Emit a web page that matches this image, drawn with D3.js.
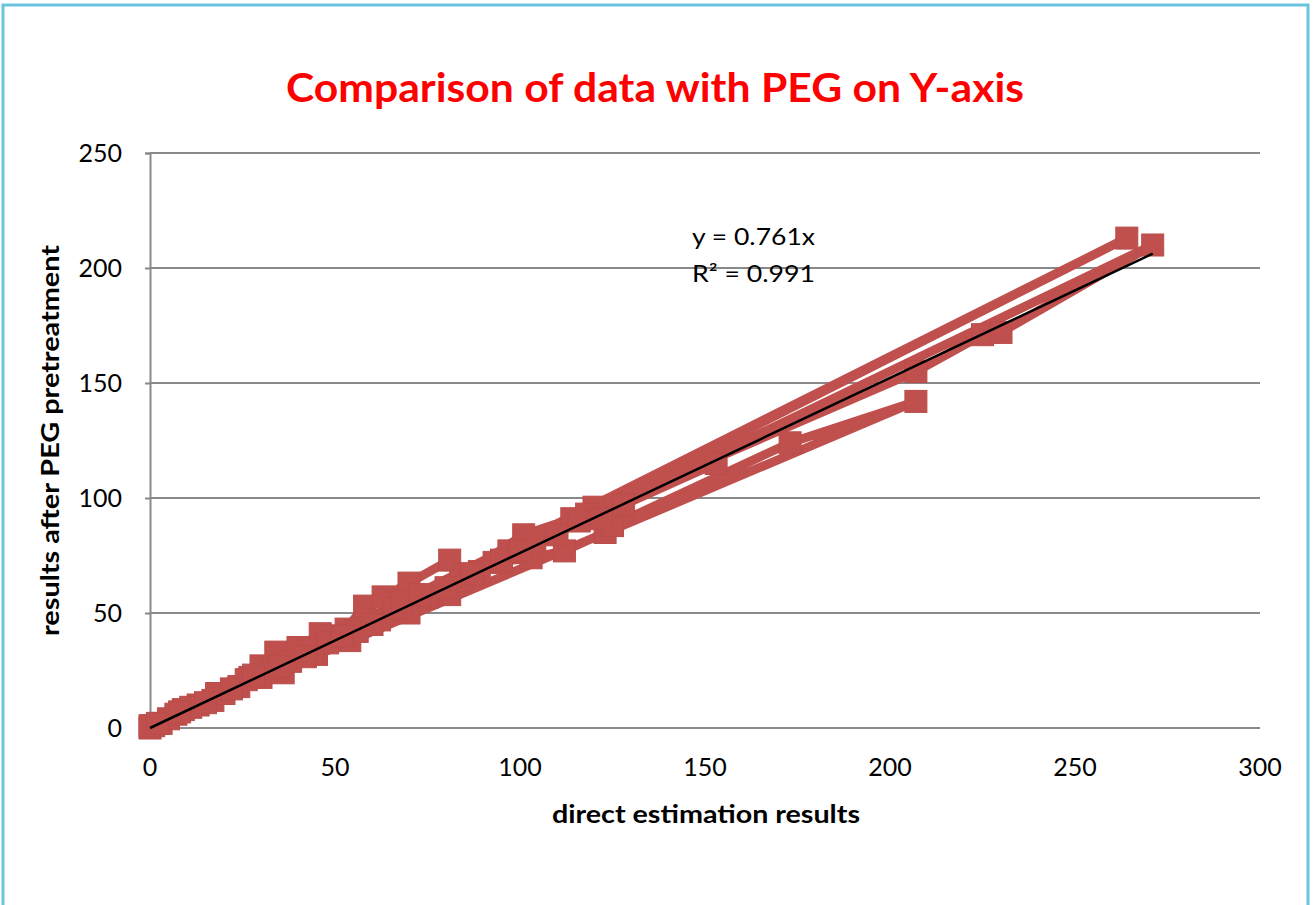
<!DOCTYPE html>
<html lang="en">
<head>
<meta charset="UTF-8">
<title>Comparison of data with PEG on Y-axis</title>
<script src="https://d3js.org/d3.v7.min.js"></script>
<style>
    body { margin: 0; background: #fff; }
    svg { display: block; font-family: Lato, "Open Sans", sans-serif; }
    .grid line { stroke: #898989; stroke-width: 2px; }
    .tick-label { font-size: 25px; fill: #000; }
    .axis-title { font-size: 24px; font-weight: bold; fill: #000; }
</style>
</head>
<body>
<svg width="1314" height="905"></svg>
<script>
// direct estimation results (x) and results after PEG pretreatment (y), in sample order
const directX = [
    0, 3, 9, 17, 24, 30, 34, 40, 46, 53, 58, 63, 70, 81, 85, 101, 114, 120, 264,
    1, 5, 13, 18, 27, 30, 36, 45, 54, 62, 70, 81, 93, 103, 112, 123, 125, 173, 207,
    0, 7, 11, 20, 26, 33, 38, 44, 49, 56, 66, 75, 84, 89, 97, 104, 118, 207, 225, 230, 271,
    2, 8, 15, 22, 28, 35, 42, 48, 52, 60, 68, 73, 80, 87, 95, 100, 110, 116, 122, 128, 153
];
const pegY = [
    0, 2, 8, 12, 18, 27, 33, 35, 41, 43, 53, 57, 63, 73, 67, 84, 91, 96, 213,
    1, 4, 10, 15, 22, 22, 24, 32, 38, 47, 50, 58, 72, 74, 77, 85, 88, 124, 142,
    1, 6, 9, 15, 21, 26, 29, 34, 40, 42, 52, 57, 64, 68, 77, 80, 93, 155, 171, 172, 210,
    2, 7, 11, 17, 23, 27, 31, 37, 40, 45, 55, 58, 61, 67, 73, 77, 84, 90, 91, 97, 115
];
const xTicks = [0, 50, 100, 150, 200, 250, 300];
const yTicks = [0, 50, 100, 150, 200, 250];
const slope = 0.761;
const eqLines = ["y = 0.761x", "R\u00B2 = 0.991"];

const points = directX.map((x, i) => ({ x: x, y: pegY[i] }));

const svg = d3.select("svg");
const plot = { left: 150, right: 1260, top: 153, bottom: 728 };
const red = "#C0504D";

// chart frame
svg.append("rect")
    .attr("x", 3).attr("y", 5)
    .attr("width", 1305).attr("height", 910)
    .attr("fill", "#fff")
    .attr("stroke", "#6CC3DD")
    .attr("stroke-width", 3);

const x = d3.scaleLinear().domain([0, 300]).range([plot.left, plot.right]);
const y = d3.scaleLinear().domain([0, 250]).range([plot.bottom, plot.top]);

// horizontal gridlines
svg.append("g").attr("class", "grid")
    .selectAll("line").data(yTicks).join("line")
    .attr("x1", plot.left).attr("x2", plot.right)
    .attr("y1", d => y(d)).attr("y2", d => y(d));

// y axis line with small outside ticks
const yAxis = svg.append("g")
    .attr("transform", `translate(${plot.left},0)`)
    .call(d3.axisLeft(y).tickValues(yTicks).tickSize(5).tickFormat(""));
yAxis.select(".domain").attr("stroke", "#898989").attr("stroke-width", 2);
yAxis.selectAll(".tick line").attr("stroke", "#898989").attr("stroke-width", 2);

svg.append("g").selectAll("text").data(yTicks).join("text")
    .attr("class", "tick-label")
    .attr("x", 122)
    .attr("y", d => y(d))
    .attr("dy", "0.35em")
    .attr("text-anchor", "end")
    .text(d => d);

svg.append("g").selectAll("text").data(xTicks).join("text")
    .attr("class", "tick-label")
    .attr("x", d => x(d))
    .attr("y", 776)
    .attr("text-anchor", "middle")
    .text(d => d);

// series: lines in sample order, square markers
const line = d3.line().x(d => x(d.x)).y(d => y(d.y));
svg.append("path")
    .datum(points)
    .attr("d", line)
    .attr("fill", "none")
    .attr("stroke", red)
    .attr("stroke-width", 9)
    .attr("stroke-linejoin", "round")
    .attr("stroke-linecap", "round");

const m = 22;
svg.append("g").selectAll("rect").data(points).join("rect")
    .attr("x", d => x(d.x) - m / 2)
    .attr("y", d => y(d.y) - m / 2)
    .attr("width", m).attr("height", m)
    .attr("fill", red)
    .attr("stroke", "#BA4D4A")
    .attr("stroke-width", 1);

// linear trendline through origin
const xMax = d3.max(directX);
svg.append("line")
    .attr("x1", x(0)).attr("y1", y(0))
    .attr("x2", x(xMax)).attr("y2", y(slope * xMax))
    .attr("stroke", "#000")
    .attr("stroke-width", 2.5);

svg.append("g").selectAll("text").data(eqLines).join("text")
    .attr("x", 692)
    .attr("y", (d, i) => 245 + i * 37)
    .attr("font-size", 23)
    .attr("textLength", 123)
    .attr("lengthAdjust", "spacingAndGlyphs")
    .text(d => d);

// titles
svg.append("text")
    .attr("x", 655).attr("y", 102)
    .attr("text-anchor", "middle")
    .attr("font-size", 41)
    .attr("font-weight", "bold")
    .attr("fill", "#FF0000")
    .attr("textLength", 738)
    .attr("lengthAdjust", "spacingAndGlyphs")
    .text("Comparison of data with PEG on Y-axis");

svg.append("text")
    .attr("class", "axis-title")
    .attr("x", 706).attr("y", 823)
    .attr("text-anchor", "middle")
    .attr("textLength", 308)
    .attr("lengthAdjust", "spacingAndGlyphs")
    .text("direct estimation results");

svg.append("text")
    .attr("class", "axis-title")
    .attr("transform", `translate(59,${(plot.top + plot.bottom) / 2}) rotate(-90)`)
    .attr("text-anchor", "middle")
    .attr("textLength", 391)
    .attr("lengthAdjust", "spacingAndGlyphs")
    .text("results after PEG pretreatment");
</script>
</body>
</html>
